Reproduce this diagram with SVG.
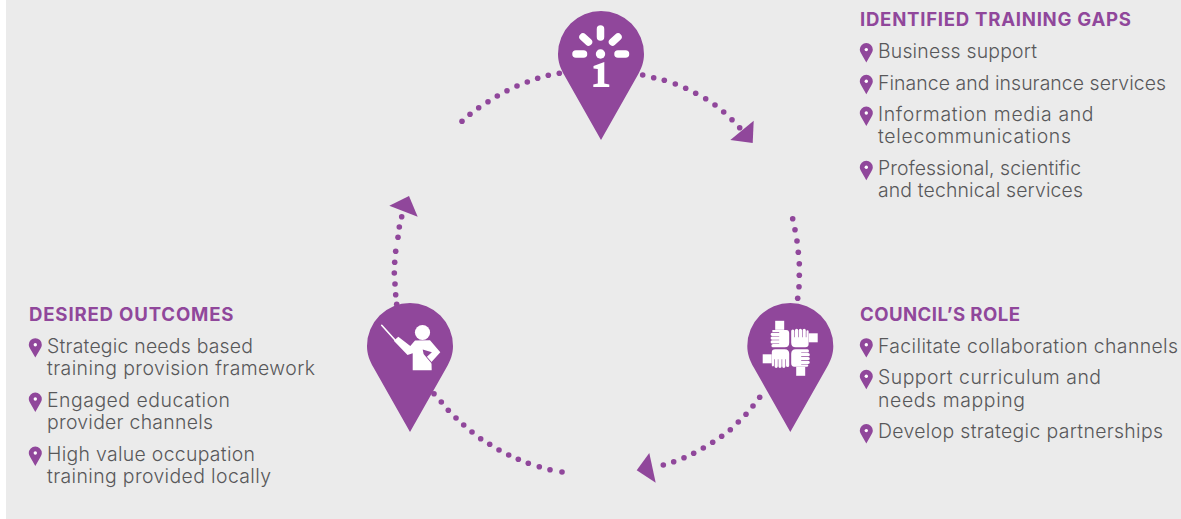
<svg xmlns="http://www.w3.org/2000/svg" xmlns:xlink="http://www.w3.org/1999/xlink" width="1181" height="519" viewBox="0 0 1181 519">
<style>
.h{font-family:"Inter","Liberation Sans",sans-serif;font-weight:700;font-size:18.6px;fill:#90479b}
.t{font-family:"Inter","Liberation Sans",sans-serif;font-weight:300;font-size:19.4px;fill:#58585a}
.p{fill:#90479b}
.w{fill:#fff}
.ws{stroke:#fff;fill:none;stroke-linecap:round}
</style>
<defs>
<path id="pin" d="M0,86L-36.5,21.5C-40.5,14.5 -43,8 -43,0A43,43 0 0 1 43,0C43,8 40.5,14.5 36.5,21.5Z"/>
<g id="bullet"><path class="p" d="M0,12.9L-5,4.2C-6,2.7 -6.5,1.4 -6.5,0A6.5,6.5 0 0 1 6.5,0C6.5,1.4 6,2.7 5,4.2Z"/><circle class="w" r="1.7"/></g>
<circle id="d" class="p" r="2.8"/>
<g id="hand">
<rect class="w" x="18.5" y="-15" width="9" height="9"/>
<path class="w" d="M1,-5.5V-17.2a1.3,1.3 0 0 1 3.2,0V-11H4.8V-18a1.4,1.4 0 0 1 3.2,0V-11H8.6V-18a1.4,1.4 0 0 1 3.2,0V-11H12.4V-18a1.4,1.4 0 0 1 3.2,0V-11H16.2V-17a1.1,1.1 0 0 1 2.2,0V-4Q18.4,-1 15,-1H5.5Q1,-1 1,-5.5Z"/>
</g>
</defs>
<rect id="background" x="6" y="0" width="1175" height="519" fill="#ebebeb"/>
<g id="connectors">
<g id="conn-top-left">
<use href="#d" x="462" y="121.3"/><use href="#d" x="470" y="114.3"/><use href="#d" x="478.7" y="107.7"/><use href="#d" x="488" y="101.7"/><use href="#d" x="497.3" y="96"/><use href="#d" x="507" y="90.7"/><use href="#d" x="517" y="86"/><use href="#d" x="527.3" y="82"/><use href="#d" x="537.7" y="78.3"/><use href="#d" x="548.3" y="75.3"/><use href="#d" x="559.3" y="73.3"/>
</g>
<g id="conn-top-right">
<use href="#d" x="642.7" y="75"/><use href="#d" x="653.7" y="77.7"/><use href="#d" x="664.3" y="80.3"/><use href="#d" x="675.3" y="84"/><use href="#d" x="685.7" y="88.3"/><use href="#d" x="695.7" y="93.3"/><use href="#d" x="705.7" y="98.7"/><use href="#d" x="715" y="105"/><use href="#d" x="723.7" y="112"/><use href="#d" x="732" y="119.7"/><use href="#d" x="739.7" y="127.7"/>
<polygon class="p" points="753.7,120.7 752.7,143 730.3,140"/>
</g>
<g id="conn-right">
<use href="#d" x="792.7" y="218.7"/><use href="#d" x="795" y="229.7"/><use href="#d" x="797" y="241"/><use href="#d" x="798.3" y="252.3"/><use href="#d" x="799.3" y="263.7"/><use href="#d" x="799.3" y="275.3"/><use href="#d" x="799" y="286.7"/><use href="#d" x="797.7" y="298.3"/>
</g>
<g id="conn-bottom-right">
<use href="#d" x="759.7" y="397.3"/><use href="#d" x="753" y="406"/><use href="#d" x="746" y="414.3"/><use href="#d" x="738.3" y="422"/><use href="#d" x="730.3" y="429.7"/><use href="#d" x="721.7" y="436.3"/><use href="#d" x="712.7" y="442.3"/><use href="#d" x="703.3" y="448"/><use href="#d" x="693.7" y="453.3"/><use href="#d" x="684" y="457.7"/><use href="#d" x="673.7" y="461.7"/><use href="#d" x="663.3" y="465"/>
<polygon class="p" points="649.3,453 636.7,470.3 655.7,482.7"/>
</g>
<g id="conn-bottom-left">
<use href="#d" x="434" y="393.7"/><use href="#d" x="441.3" y="402"/><use href="#d" x="448.3" y="410.3"/><use href="#d" x="456" y="418"/><use href="#d" x="463.7" y="425"/><use href="#d" x="472" y="432"/><use href="#d" x="480.7" y="438.7"/><use href="#d" x="489.7" y="444.3"/><use href="#d" x="499" y="450"/><use href="#d" x="508.7" y="455"/><use href="#d" x="518.3" y="459.3"/><use href="#d" x="528.3" y="463.3"/><use href="#d" x="539.3" y="466.7"/><use href="#d" x="550" y="469.7"/><use href="#d" x="562" y="472"/>
</g>
<g id="conn-left">
<use href="#d" x="396.7" y="304.3"/><use href="#d" x="395.7" y="294.7"/><use href="#d" x="395" y="284"/><use href="#d" x="394.3" y="273"/><use href="#d" x="394.7" y="262.3"/><use href="#d" x="395.7" y="251.3"/><use href="#d" x="398" y="237.3"/><use href="#d" x="399.3" y="227"/><use href="#d" x="401.7" y="216.7"/>
<polygon class="p" points="409,196 389.3,205.7 417.7,216.7"/>
</g>
</g>
<g id="node-info">
<use href="#pin" class="p" x="601" y="54"/>
<circle class="w" cx="600.5" cy="54" r="4.7"/>
<g class="ws" stroke-width="7.5">
<path d="M576,54H583.5M618,54H625.5M600.5,29V37M583,37L588.5,42M618,37L612.5,42"/>
</g>
<path class="w" d="M593.5,66L604.3,62V83.5L609.3,84.5V87H593.3V84.5L597.8,83.5V69L593.5,68.5Z"/>
</g>
<g id="node-collaboration">
<use href="#pin" class="p" x="790.3" y="346"/>
<g transform="translate(790.2,348.3)">
<use href="#hand"/>
<use href="#hand" transform="rotate(90)"/>
<use href="#hand" transform="rotate(180)"/>
<use href="#hand" transform="rotate(270)"/>
</g>
</g>
<g id="node-teacher">
<use href="#pin" class="p" x="410" y="346"/>
<circle class="w" cx="422.5" cy="332.5" r="7.6"/>
<path class="ws" stroke-width="1.6" d="M381.7,325.3L395,340"/>
<polygon class="w" points="393.8,340.7 398.3,336.8 410.3,346 415,340.5 430,340.3 440.3,352.3 431.5,362 431.7,370.3 412.7,370.3 412.7,353.3 407.5,355"/>
<path class="p" d="M422.7,349.5L431.9,352.2L426.9,356.8L432.5,363L431.8,363.8L423.6,354Z"/>
</g>
<g id="panel-gaps">
<text class="h" x="860" y="26" textLength="271">IDENTIFIED TRAINING GAPS</text>
<use href="#bullet" x="866.3" y="49.6"/><text class="t" x="878" y="58.3" textLength="159">Business support</text>
<use href="#bullet" x="866.3" y="81.3"/><text class="t" x="878" y="89.5" textLength="288">Finance and insurance services</text>
<use href="#bullet" x="866.3" y="113"/><text class="t" x="878" y="121" textLength="215.5">Information media and</text>
<text class="t" x="878" y="142.7" textLength="193">telecommunications</text>
<use href="#bullet" x="866.3" y="167.3"/><text class="t" x="878" y="175" textLength="203">Professional, scientific</text>
<text class="t" x="878" y="196.7" textLength="205">and technical services</text>
</g>
<g id="panel-role">
<text class="h" x="860" y="321" textLength="160">COUNCIL’S ROLE</text>
<use href="#bullet" x="866.3" y="344.7"/><text class="t" x="878" y="353.3" textLength="300">Facilitate collaboration channels</text>
<use href="#bullet" x="866.3" y="376.3"/><text class="t" x="878" y="384.3" textLength="223">Support curriculum and</text>
<text class="t" x="878" y="407" textLength="147">needs mapping</text>
<use href="#bullet" x="866.3" y="430.6"/><text class="t" x="878" y="438.3" textLength="285">Develop strategic partnerships</text>
</g>
<g id="panel-outcomes">
<text class="h" x="29" y="321" textLength="204.5">DESIRED OUTCOMES</text>
<use href="#bullet" x="35.3" y="344.7"/><text class="t" x="47" y="353.3" textLength="206">Strategic needs based</text>
<text class="t" x="47" y="375" textLength="268">training provision framework</text>
<use href="#bullet" x="35.3" y="399"/><text class="t" x="47" y="407.3" textLength="183">Engaged education</text>
<text class="t" x="47" y="429" textLength="166">provider channels</text>
<use href="#bullet" x="35.3" y="453"/><text class="t" x="47" y="461.3" textLength="208">High value occupation</text>
<text class="t" x="47" y="483.3" textLength="224">training provided locally</text>
</g>
</svg>
